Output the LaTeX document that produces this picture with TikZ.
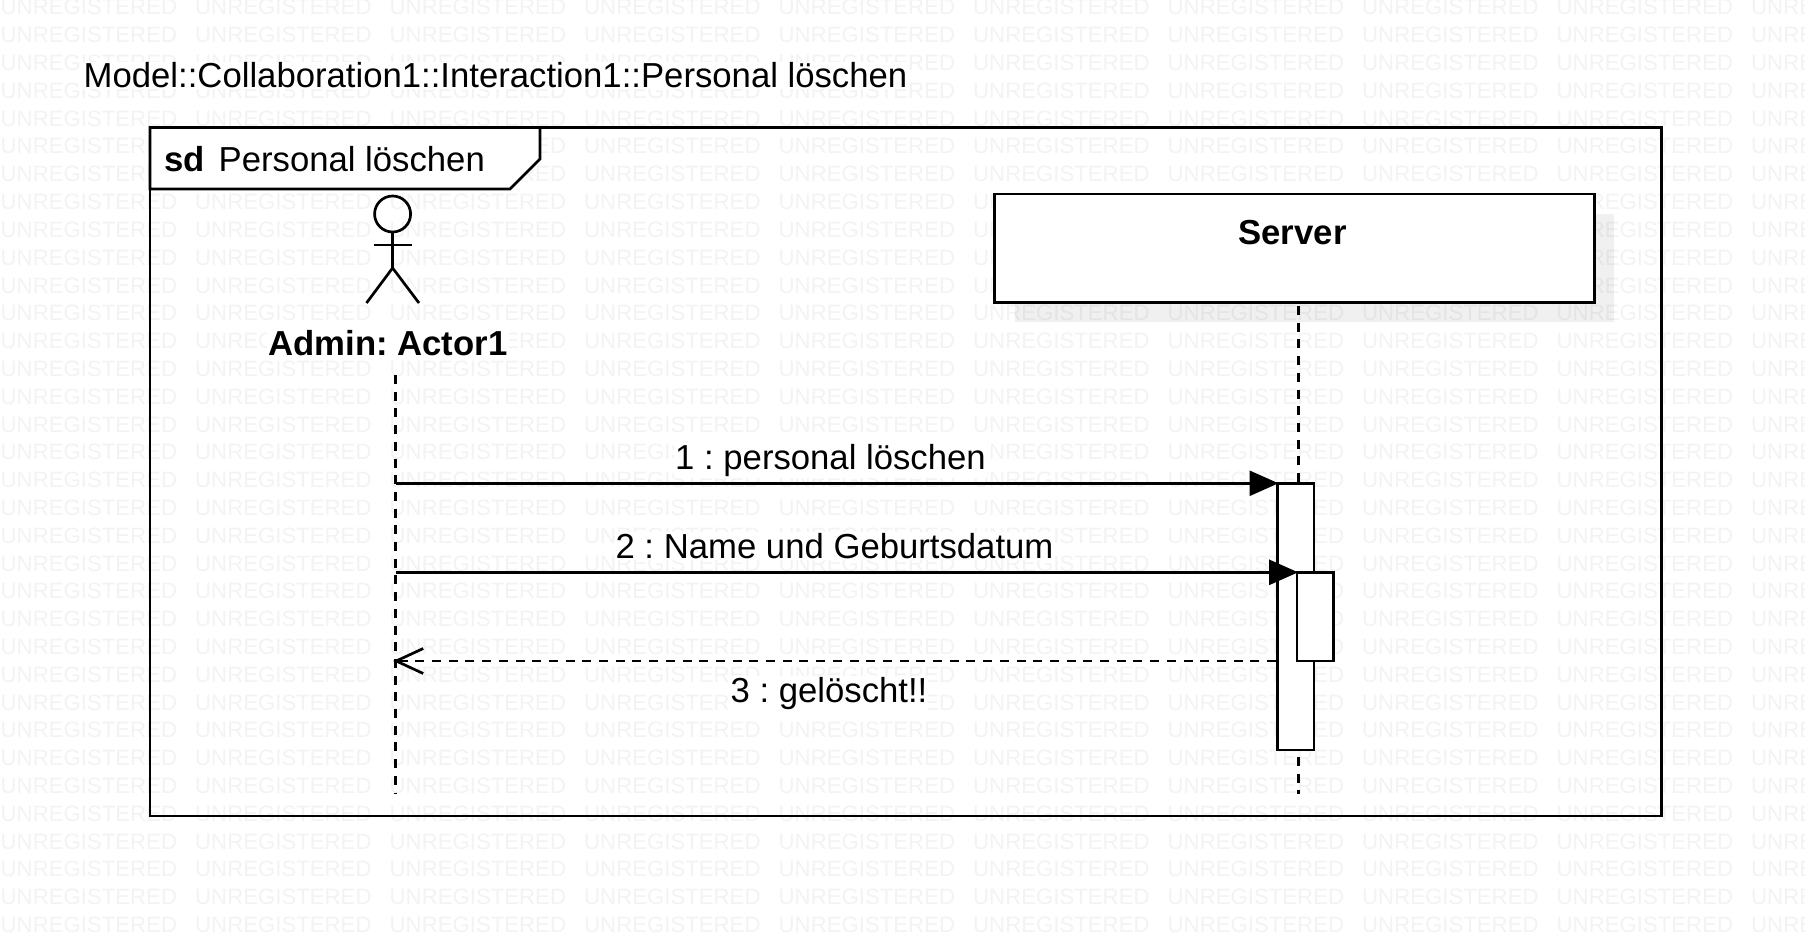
\documentclass[tikz,border=0pt]{standalone}
\usepackage{fontspec}
\setmainfont{Liberation Sans}
\frenchspacing
\usetikzlibrary{arrows.meta}
\definecolor{stampgray}{HTML}{F3F3F3}
\tikzset{
    stamptext/.style={anchor=base west,inner sep=0pt,text=stampgray,font=\fontsize{22.2}{24}\selectfont},
    msgtext/.style={anchor=base,fill=white,inner sep=1pt,font=\fontsize{34.7}{38}\selectfont},
    lifeline/.style={line width=2.9pt,dash pattern=on 9pt off 7.7pt},
    actbox/.style={draw,fill=white,line width=2.7pt,inner sep=0pt},
    msgline/.style={line width=2.7pt,shorten >=-2.5pt,-{Triangle[length=29pt,width=25pt]}},
    replyline/.style={line width=2.9pt,dash pattern=on 9pt off 7.7pt,-{Straight Barb[length=27pt,width=25pt,line width=2.7pt]}}
}
\begin{document}
\begin{tikzpicture}[x=1pt,y=-1pt]
    \useasboundingbox (0,0) rectangle (1805,944);
    \begin{scope}
    \clip (0,0) rectangle (1805,944);
    \fill[white] (0,0) rectangle (1805,944);
    \foreach \r in {0,1,...,33} % watermark rows
        \foreach \c in {0,1,...,9}
            \node[stamptext] (stamp\r-\c) at (0.5+194.5*\c,15+27.8*\r) {UNREGISTERED};
    \end{scope}
    \node[anchor=base west,fill=white,inner sep=1pt,font=\fontsize{34.7}{38}\selectfont] (title) at (82.5,88) {Model::Collaboration1::Interaction1::Personal löschen};
    % frame and tag
    \draw[line width=2.7pt] (150,127.5) rectangle (1661.5,816);
    \draw[fill=white,line width=2.7pt] (150,127.5) -- (540,127.5) -- (540,159) -- (510,189) -- (150,189) -- cycle;
    \node[anchor=base west,inner sep=0pt,font=\bfseries\fontsize{34.7}{38}\selectfont] (tagsd) at (164.5,172) {sd};
    \node[anchor=base west,inner sep=0pt,font=\fontsize{34.7}{38}\selectfont] (tagname) at (218.5,172) {Personal löschen};
    % actor
    \draw[line width=2.7pt] (392.6,214) circle (18);
    \draw[line width=2.7pt] (392.6,232) -- (392.6,268);
    \draw[line width=2.7pt] (374,245) -- (411.6,245);
    \draw[line width=2.7pt] (366.5,303) -- (392.6,268) -- (419,303);
    \node[msgtext,font=\bfseries\fontsize{34.7}{38}\selectfont] (admin) at (388,355) {Admin: Actor1};
    % server
    \fill[black,opacity=0.06] (1015,214) rectangle (1614,322);
    \node[draw,fill=white,line width=2.7pt,minimum width=600pt,minimum height=108.5pt,inner sep=0pt] (server) at (1294.8,248.3) {};
    \node[anchor=base,inner sep=0pt,font=\bfseries\fontsize{34.7}{38}\selectfont] (servername) at (1292.5,244) {Server};
    % lifelines
    \coordinate (adminend) at (395.7,794);
    \coordinate (serverend) at (1298.5,794);
    \draw[lifeline] (395.7,375) coordinate (adminstart) -- (adminend);
    \draw[lifeline] (1298.5,306) coordinate (serverstart) -- (serverend);
    % activations
    \node[actbox,minimum width=36.5pt,minimum height=266.7pt] (outer) at (1295.6,616.7) {};
    \node[actbox,minimum width=36.7pt,minimum height=88.7pt] (inner) at (1315.3,616.7) {};
    % messages
    \coordinate (m1) at (395.7,483.3);
    \coordinate (m2) at (395.7,572.3);
    \coordinate (m3) at (393,661);
    \draw[msgline] (m1) -- (m1 -| outer.west);
    \draw[msgline] (m2) -- (m2 -| inner.west);
    \draw[replyline] (m3 -| outer.west) -- (m3);
    \node[msgtext] (lab1) at (830.5,469.5) {1 : personal löschen};
    \node[msgtext] (lab2) at (834.5,558.5) {2 : Name und Geburtsdatum};
    \node[msgtext] (lab3) at (829,702.5) {3 : gelöscht!!};
\end{tikzpicture}
\end{document}
